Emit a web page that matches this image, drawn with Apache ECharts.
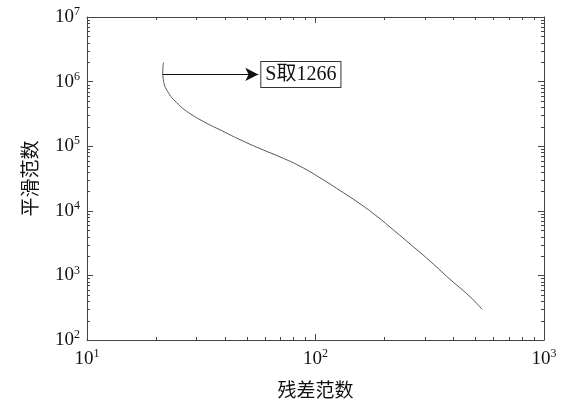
<!DOCTYPE html>
<html>
<head>
<meta charset="utf-8">
<script src="https://cdn.jsdelivr.net/npm/echarts@6/dist/echarts.min.js"></script>
<style>
    html, body { margin: 0; padding: 0; background: #fff; }
    #chart { width: 562px; height: 404px; }
</style>
</head>
<body>
<div id="chart"></div>
<script>
    // L曲线数据（残差范数, 平滑范数）
    const residualNorm = [21.62, 21.45, 21.58, 22.69, 25.10, 27.76, 32.84, 38.86, 45.94, 57.15, 69.93,
        85.55, 104.6, 128.0, 156.6, 187.7, 211.8, 259.2, 317.0, 387.8, 474.5, 535.5];
    const smoothNorm = [1.97e6, 1.434e6, 1.081e6, 6.76e5, 4.47e5, 3.33e5, 2.34e5, 1.741e5, 1.299e5, 9.19e4, 6.83e4,
        4.90e4, 3.25e4, 2.06e4, 1.285e4, 7.98e3, 5.60e3, 3.07e3, 1.669e3, 871, 468, 299];
    // 标注箭头
    const arrowX = [21.45, 56.2];
    const arrowY = [1.29e6, 1.29e6];
    const noteText = 'S取1266';
    const xName = '残差范数';
    const yName = '平滑范数';
    const xRange = [10, 1000];
    const yRange = [100, 1e7];

    const serif = '"Liberation Serif", "Noto Sans CJK SC", serif';
    const cjk = '"Noto Sans CJK SC", sans-serif';

    // 对数轴的次刻度 2..9
    function minorTicks(range) {
        const out = [];
        for (let d = range[0]; d < range[1]; d *= 10) {
            for (let k = 2; k <= 9; k++) out.push(d * k);
        }
        return out;
    }
    const xMinor = minorTicks(xRange);
    const yMinor = minorTicks(yRange);

    function powLabel(v) {
        const e = Math.round(Math.log10(v));
        return '{b|10}{s|' + e + '}';
    }
    const richPow = {
        b: { fontSize: 19, fontFamily: serif, color: '#111', lineHeight: 22 },
        s: { fontSize: 12, fontFamily: serif, color: '#111', verticalAlign: 'top', lineHeight: 12 }
    };

    const chart = echarts.init(document.getElementById('chart'));

    const baseAxis = {
        type: 'log',
        logBase: 10,
        axisLine: { show: true, lineStyle: { color: '#444', width: 1 } },
        axisTick: { show: true, inside: true, length: 6, lineStyle: { color: '#444' } },
        splitLine: { show: false }
    };

    chart.setOption({
        backgroundColor: '#ffffff',
        animation: false,
        grid: { left: 87, right: 18, top: 17, bottom: 61 },
        xAxis: [
            Object.assign({}, baseAxis, {
                min: xRange[0], max: xRange[1],
                name: xName,
                nameLocation: 'middle',
                nameGap: 40,
                nameTextStyle: { fontFamily: cjk, fontSize: 19, color: '#111' },
                axisLabel: { margin: 8, formatter: powLabel, rich: richPow }
            }),
            Object.assign({}, baseAxis, {
                min: xRange[0], max: xRange[1], position: 'top',
                axisLabel: { show: false }
            })
        ],
        yAxis: [
            Object.assign({}, baseAxis, {
                min: yRange[0], max: yRange[1],
                name: yName,
                nameLocation: 'middle',
                nameGap: 48,
                nameRotate: 90,
                nameTextStyle: { fontFamily: cjk, fontSize: 19, color: '#111' },
                axisLabel: { margin: 7, formatter: powLabel, rich: richPow }
            }),
            Object.assign({}, baseAxis, {
                min: yRange[0], max: yRange[1], position: 'right',
                axisLabel: { show: false }
            })
        ],
        series: [
            {
                type: 'line',
                data: residualNorm.map((x, i) => [x, smoothNorm[i]]),
                smooth: 0.5,
                showSymbol: false,
                lineStyle: { color: '#555', width: 1 },
                markLine: {
                    silent: true,
                    symbol: ['none', 'arrow'],
                    symbolSize: [10, 13],
                    lineStyle: { color: '#111', width: 1, type: 'solid' },
                    label: {
                        show: true,
                        position: 'end',
                        distance: 3,
                        formatter: noteText,
                        fontFamily: serif,
                        fontSize: 20,
                        color: '#111',
                        backgroundColor: '#fff',
                        borderColor: '#333',
                        borderWidth: 1,
                        padding: [3, 4, 2, 4]
                    },
                    data: [[
                        { coord: [arrowX[0], arrowY[0]] },
                        { coord: [arrowX[1], arrowY[1]] }
                    ]]
                }
            }
        ]
    });

    // 次刻度：用坐标系换算成像素后画短线（四边，朝内）
    const tickStyle = { stroke: '#444', lineWidth: 1 };
    const minorGraphics = [];
    xMinor.forEach(function (v) {
        const b = chart.convertToPixel({ gridIndex: 0 }, [v, yRange[0]]);
        const t = chart.convertToPixel({ gridIndex: 0 }, [v, yRange[1]]);
        const x = Math.round(b[0]) + 0.5;
        minorGraphics.push({ type: 'line', silent: true, shape: { x1: x, y1: b[1], x2: x, y2: b[1] - 3 }, style: tickStyle });
        minorGraphics.push({ type: 'line', silent: true, shape: { x1: x, y1: t[1], x2: x, y2: t[1] + 3 }, style: tickStyle });
    });
    yMinor.forEach(function (v) {
        const l = chart.convertToPixel({ gridIndex: 0 }, [xRange[0], v]);
        const r = chart.convertToPixel({ gridIndex: 0 }, [xRange[1], v]);
        const y = Math.round(l[1]) + 0.5;
        minorGraphics.push({ type: 'line', silent: true, shape: { x1: l[0], y1: y, x2: l[0] + 3, y2: y }, style: tickStyle });
        minorGraphics.push({ type: 'line', silent: true, shape: { x1: r[0], y1: y, x2: r[0] - 3, y2: y }, style: tickStyle });
    });
    chart.setOption({ graphic: minorGraphics });
</script>
</body>
</html>
